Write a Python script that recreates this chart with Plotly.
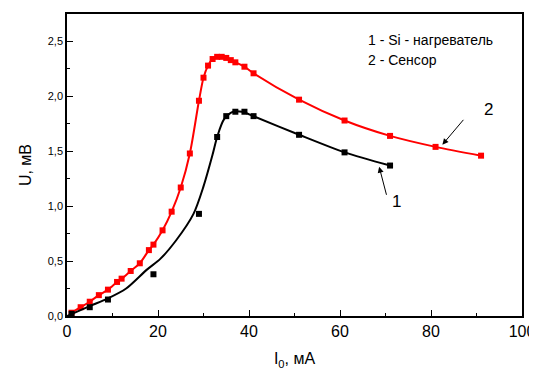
import plotly.graph_objects as go

# Sensor (2) – red points
sensor_x = [1, 3, 5, 7, 9, 11, 12, 14, 16, 18, 19, 21, 23, 25, 27, 29, 30, 31, 32, 33,
            34, 35, 36, 37, 39, 41, 51, 61, 71, 81, 91]
sensor_y = [0.03, 0.08, 0.13, 0.19, 0.24, 0.31, 0.34, 0.41, 0.48, 0.60, 0.65, 0.78, 0.95,
            1.17, 1.48, 1.96, 2.17, 2.28, 2.34, 2.36, 2.36, 2.35, 2.33, 2.31, 2.27, 2.21,
            1.97, 1.78, 1.64, 1.54, 1.46]

# Si heater (1) – black points
heater_x = [1, 5, 9, 19, 29, 33, 35, 37, 39, 41, 51, 61, 71]
heater_y = [0.02, 0.08, 0.15, 0.38, 0.93, 1.63, 1.82, 1.86, 1.86, 1.82, 1.65, 1.49, 1.37]

# Si heater (1) – fitted curve
heater_fit_x = [0, 5, 9, 13, 17.5, 20.5, 24, 27.8, 30, 32, 33, 34.5, 36.5, 38.5, 41, 51, 61, 71]
heater_fit_y = [0.0, 0.09, 0.16, 0.25, 0.42, 0.52, 0.69, 0.93, 1.18, 1.47, 1.63, 1.79, 1.86,
                1.86, 1.82, 1.65, 1.49, 1.37]

x_ticks = [0, 20, 40, 60, 80, 100]
y_ticks = [0.0, 0.5, 1.0, 1.5, 2.0, 2.5]

FONT = "Arial, 'Liberation Sans', sans-serif"

fig = go.Figure()
fig.add_trace(go.Scatter(x=sensor_x, y=sensor_y, mode="lines+markers",
                         line=dict(color="#ff0000", width=2, shape="spline", smoothing=0.8),
                         marker=dict(symbol="square", size=6, color="#ff0000"),
                         showlegend=False))
fig.add_trace(go.Scatter(x=heater_fit_x, y=heater_fit_y, mode="lines",
                         line=dict(color="black", width=2, shape="spline", smoothing=0.8),
                         showlegend=False, hoverinfo="skip"))
fig.add_trace(go.Scatter(x=heater_x, y=heater_y, mode="markers",
                         marker=dict(symbol="square", size=6, color="black"),
                         showlegend=False))

annotations = [
    dict(x=82.5, y=1.56, ax=87.4, ay=1.80, xref="x", yref="y", axref="x", ayref="y",
         text="", showarrow=True, arrowhead=2, arrowsize=1.2, arrowwidth=1, arrowcolor="black"),
    dict(x=92.7, y=1.88, xref="x", yref="y", text="2", showarrow=False,
         font=dict(size=17, color="black", family=FONT)),
    dict(x=68.6, y=1.36, ax=70.3, ay=1.09, xref="x", yref="y", axref="x", ayref="y",
         text="", showarrow=True, arrowhead=2, arrowsize=1.2, arrowwidth=1, arrowcolor="black"),
    dict(x=72.4, y=1.04, xref="x", yref="y", text="1", showarrow=False,
         font=dict(size=17, color="black", family=FONT)),
    dict(xref="paper", yref="paper", x=0.657, y=0.915, xanchor="left", yanchor="middle",
         text="1 - Si - нагреватель", showarrow=False,
         font=dict(size=14, color="black", family=FONT)),
    dict(xref="paper", yref="paper", x=0.657, y=0.848, xanchor="left", yanchor="middle",
         text="2 - Сенсор", showarrow=False,
         font=dict(size=14, color="black", family=FONT)),
]

# the page body adds an 8 px offset, so the figure is 8 px smaller with shifted margins
fig.update_layout(
    width=529, height=366,
    margin=dict(l=59, r=15, t=6, b=58, autoexpand=False),
    paper_bgcolor="white", plot_bgcolor="white",
    separators=",.",
    font=dict(family=FONT, color="black"),
    annotations=annotations,
    xaxis=dict(range=[0, 100], tickvals=x_ticks, ticks="inside", ticklen=6, tickwidth=1,
               tickcolor="black", showline=True, linecolor="black", linewidth=1.5,
               mirror=True, showgrid=False, zeroline=False, automargin=False,
               tickfont=dict(size=16, family=FONT),
               minor=dict(dtick=10, ticks="inside", ticklen=3, tickcolor="black"),
               title=dict(text="I<sub>0</sub>, мА", font=dict(size=16, family=FONT), standoff=14)),
    yaxis=dict(range=[0, 2.75], tickvals=y_ticks, tickformat=".1f", ticks="inside", ticklen=6,
               tickwidth=1, tickcolor="black", showline=True, linecolor="black", linewidth=1.5,
               mirror=True, showgrid=False, zeroline=False, automargin=False,
               tickfont=dict(size=11, family=FONT),
               minor=dict(dtick=0.25, ticks="inside", ticklen=3, tickcolor="black"),
               title=dict(text="U, мВ", font=dict(size=16, family=FONT), standoff=12)),
)

fig.write_html("out.html")
